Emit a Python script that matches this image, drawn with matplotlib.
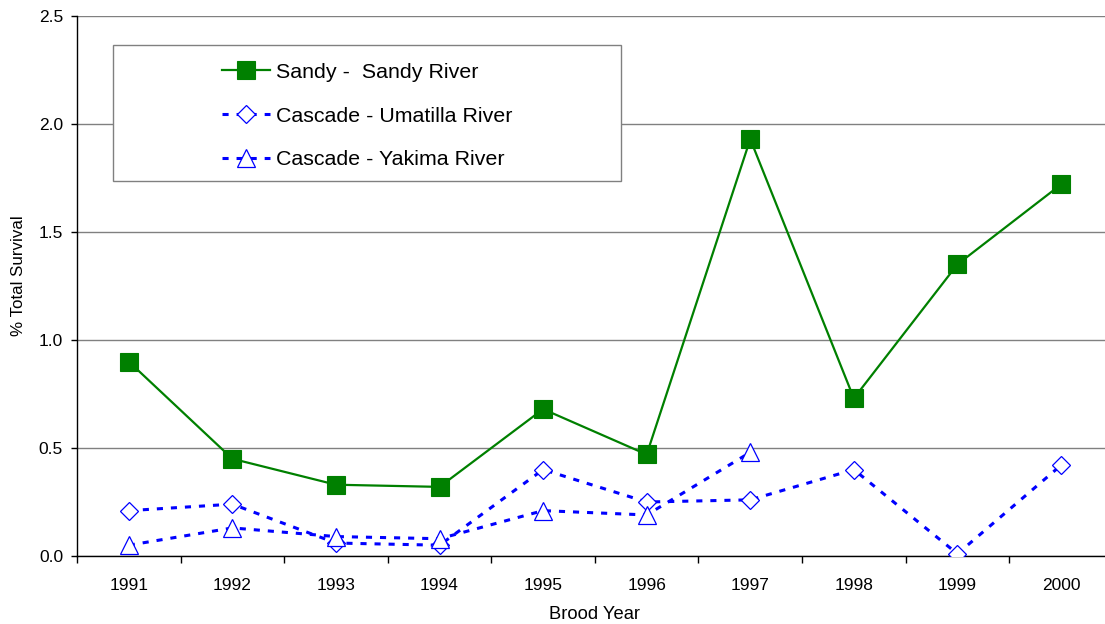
import matplotlib
matplotlib.use("Agg")
import matplotlib.pyplot as plt
from matplotlib.patches import Rectangle
import numpy as np

plt.rcParams['font.family'] = ['Liberation Sans', 'DejaVu Sans']

years = ['1991', '1992', '1993', '1994', '1995', '1996', '1997', '1998', '1999', '2000']
sandy = [0.90, 0.45, 0.33, 0.32, 0.68, 0.47, 1.93, 0.73, 1.35, 1.72]
umatilla = [0.21, 0.24, 0.06, 0.05, 0.40, 0.25, 0.26, 0.40, 0.01, 0.42]
yakima_years = ['1991', '1992', '1993', '1994', '1995', '1996', '1997']
yakima = [0.05, 0.13, 0.09, 0.08, 0.21, 0.19, 0.48]

labels = ['Sandy -  Sandy River', 'Cascade - Umatilla River', 'Cascade - Yakima River']
green = '#008000'
blue = '#0000FF'

fig = plt.figure(figsize=(11.05, 6.24), dpi=100)
W, H = 1105, 624
ax_l, ax_r, ax_t, ax_b = 77, 1112.8, 16, 556
ax = fig.add_axes([ax_l / W, 1 - ax_b / H, (ax_r - ax_l) / W, (ax_b - ax_t) / H])

x = np.arange(1, len(years) + 1)
xy = np.arange(1, len(yakima_years) + 1)

l1, = ax.plot(x, sandy, color=green, lw=1.6, marker='s', markersize=12.8,
              markerfacecolor=green, markeredgecolor=green, markeredgewidth=0.8, zorder=5)
l2, = ax.plot(x, umatilla, color=blue, lw=2.2, linestyle=(0, (2, 2.6)), marker='D',
              markersize=8.8, markerfacecolor='white', markeredgecolor=blue,
              markeredgewidth=0.9, zorder=4)
l3, = ax.plot(xy, yakima, color=blue, lw=2.2, linestyle=(0, (2, 2.6)), marker='^',
              markersize=13.2, markerfacecolor='white', markeredgecolor=blue,
              markeredgewidth=0.9, zorder=4)

ax.set_xlim(0.5, 10.5)
ax.set_ylim(0, 2.5)
ax.set_yticks([0.0, 0.5, 1.0, 1.5, 2.0, 2.5])
ax.set_yticklabels(['0.0', '0.5', '1.0', '1.5', '2.0', '2.5'])
ax.set_xticks(x)
ax.set_xticklabels(years)
ax.set_xticks(np.arange(0.5, 11, 1), minor=True)
ax.tick_params(axis='x', which='major', length=0, pad=16, labelsize=12.5)
ax.tick_params(axis='x', which='minor', length=5, width=1, direction='out', color='black')
ax.tick_params(axis='y', which='major', length=4, width=1, direction='out', pad=6, labelsize=12.5)

ax.yaxis.grid(True, color='#808080', lw=1.0)
ax.set_axisbelow(True)
for s in ['top', 'right']:
    ax.spines[s].set_visible(False)
ax.spines['left'].set_color('black')
ax.spines['bottom'].set_color('black')
ax.spines['left'].set_linewidth(1.0)
ax.spines['bottom'].set_linewidth(1.0)

aw = ax_r - ax_l
ah = ax_b - ax_t
ax.set_ylabel('% Total Survival', fontsize=12.2)
ax.yaxis.set_label_coords((26 - ax_l) / aw, (ax_b - 276) / ah)
ax.set_xlabel('Brood Year', fontsize=13.2, labelpad=9)

# legend box
bx0, bx1, by0, by1 = 113, 621, 45, 181
rect = Rectangle(((bx0 - ax_l) / aw, (ax_b - by1) / ah), (bx1 - bx0) / aw, (by1 - by0) / ah,
                 transform=ax.transAxes, facecolor='white', edgecolor='#808080', lw=1.0,
                 zorder=10, clip_on=False)
ax.add_patch(rect)
leg = ax.legend([l1, l2, l3], labels, loc='center',
                bbox_to_anchor=(((bx0 + bx1) / 2 - ax_l) / aw, (ax_b - ((by0 + by1) / 2 + 3)) / ah),
                frameon=False, fontsize=15.4, handlelength=2.25, handletextpad=0.28,
                labelspacing=1.15, borderpad=0)
leg.set_zorder(11)

fig.savefig('out.png', dpi=100)
